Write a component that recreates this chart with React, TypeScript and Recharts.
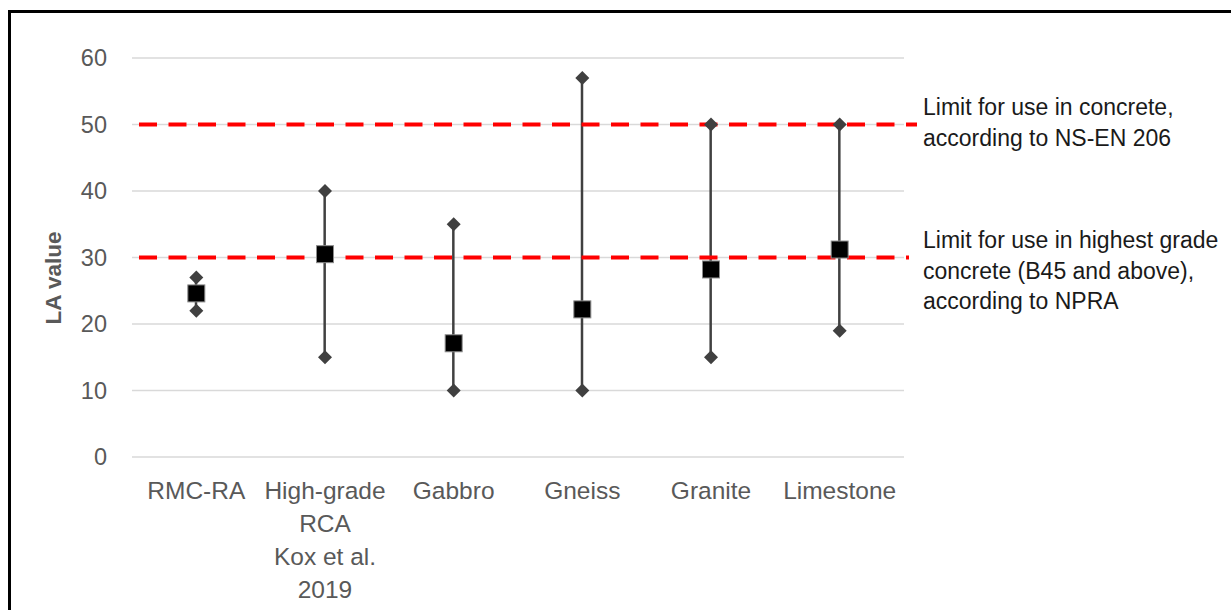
import { ComposedChart, Bar, Line, XAxis, YAxis, CartesianGrid, ReferenceLine } from "recharts";

const categories = ["RMC-RA", "High-grade\nRCA\nKox et al.\n2019", "Gabbro", "Gneiss", "Granite", "Limestone"];
const minValues = [22, 15, 10, 10, 15, 19];
const maxValues = [27, 40, 35, 57, 50, 50];
const meanValues = [24.6, 30.5, 17.1, 22.2, 28.2, 31.2];
const yTicks = [0, 10, 20, 30, 40, 50, 60];
const limits = [50, 30];
const limitNotes = [
  ["Limit for use in concrete,", "according to NS-EN 206"],
  ["Limit for use in highest grade", "concrete (B45 and above),", "according to NPRA"],
];

const data = categories.map((name, i) => ({
  name,
  range: [minValues[i], maxValues[i]],
  min: minValues[i],
  max: maxValues[i],
  mean: meanValues[i],
}));

const FONT = "'Liberation Sans', Arial, sans-serif";
const GREY = "#595959";
const MARK = "#404040";

function Diamond(props: any) {
  const { cx, cy, index } = props;
  if (cx == null || cy == null) return <g key={index} />;
  const r = 7;
  return <path key={index} d={`M${cx},${cy - r}L${cx + r},${cy}L${cx},${cy + r}L${cx - r},${cy}Z`} fill={MARK} />;
}

function Square(props: any) {
  const { cx, cy, index } = props;
  if (cx == null || cy == null) return <g key={index} />;
  const s = 17;
  return <rect key={index} x={cx - s / 2} y={cy - s / 2} width={s} height={s} fill="#000" stroke="#8c8c8c" strokeWidth={1} />;
}

function Whisker(props: any) {
  const { x, y, width, height } = props;
  const cx = x + width / 2;
  return <line x1={cx} y1={y} x2={cx} y2={y + height} stroke={MARK} strokeWidth={2.5} />;
}

function CategoryTick(props: any) {
  const { x, y, payload } = props;
  const lines = String(payload.value).split("\n");
  return (
    <text x={x} y={y + 42} textAnchor="middle" fill={GREY} fontSize={24.5} fontFamily={FONT}>
      {lines.map((l, i) => (
        <tspan key={i} x={x} dy={i === 0 ? 0 : 33}>
          {l}
        </tspan>
      ))}
    </text>
  );
}

function limitLine(extend: number) {
  return (props: any) => {
    const { x1, y1, x2, y2 } = props;
    return <line x1={x1 + 7} y1={y1} x2={x2 + extend} y2={y2} stroke="#ff0000" strokeWidth={4} strokeDasharray="18 11.5" />;
  };
}

function limitNote(lines: string[]) {
  return (props: any) => {
    const { viewBox } = props;
    const x = viewBox.x + viewBox.width + 19;
    const y = viewBox.y - 17.5;
    return (
      <text x={x} y={y} fill="#1a1a1a" fontSize={23} fontFamily={FONT} dominantBaseline="central">
        {lines.map((l, i) => (
          <tspan key={i} x={x} dy={i === 0 ? 0 : 30.5}>
            {l}
          </tspan>
        ))}
      </text>
    );
  };
}

export default function App() {
  return (
    <div style={{ position: "fixed", left: 0, top: 0, width: 1231, height: 610, overflow: "hidden", background: "#fff" }}>
      <div
        style={{
          position: "absolute",
          left: 8,
          top: 10,
          width: 1231,
          height: 610,
          borderLeft: "3px solid #000",
          borderTop: "3px solid #000",
        }}
      />
      <div style={{ position: "absolute", left: 0, top: 0 }}>
        <ComposedChart width={1231} height={610} data={data} margin={{ top: 58, right: 327, left: 70, bottom: 13 }}>
          <CartesianGrid vertical={false} stroke="#d9d9d9" strokeWidth={1.5} />
          <XAxis
            dataKey="name"
            axisLine={false}
            tickLine={false}
            tickSize={0}
            tickMargin={0}
            height={140}
            interval={0}
            tick={<CategoryTick />}
          />
          <YAxis
            domain={[0, 60]}
            ticks={yTicks}
            axisLine={false}
            tickLine={false}
            tickSize={0}
            tickMargin={25}
            width={62}
            tick={{ fill: GREY, fontSize: 23.5, fontFamily: FONT }}
            label={{
              content: () => (
                <text
                  x={53}
                  y={278}
                  transform="rotate(-90 53 278)"
                  textAnchor="middle"
                  dominantBaseline="central"
                  fill={GREY}
                  fontSize={22.5}
                  fontWeight="bold"
                  fontFamily={FONT}
                >
                  LA value
                </text>
              ),
            }}
          />
          <Bar dataKey="range" barSize={10} shape={<Whisker />} isAnimationActive={false} />
          <Line dataKey="min" stroke="none" dot={<Diamond />} activeDot={false} isAnimationActive={false} />
          <Line dataKey="max" stroke="none" dot={<Diamond />} activeDot={false} isAnimationActive={false} />
          {limits.map((v, i) => (
            <ReferenceLine
              key={v}
              y={v}
              ifOverflow="visible"
              shape={limitLine(i === 0 ? 13 : 5)}
              label={{ content: limitNote(limitNotes[i]) }}
            />
          ))}
          <Line dataKey="mean" stroke="none" dot={<Square />} activeDot={false} isAnimationActive={false} />
        </ComposedChart>
      </div>
    </div>
  );
}
